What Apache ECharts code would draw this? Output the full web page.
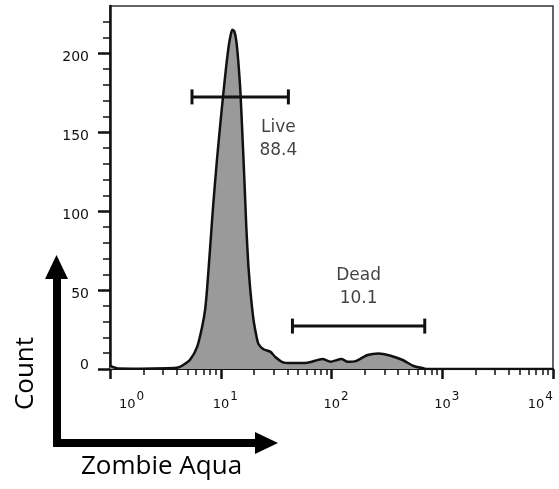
<!DOCTYPE html>
<html>
<head>
<meta charset="utf-8">
<script src="https://cdn.jsdelivr.net/npm/echarts@6/dist/echarts.min.js"></script>
<style>
html, body { margin: 0; padding: 0; background: #fff; }
#chart { width: 559px; height: 489px; }
</style>
</head>
<body>
<div id="chart"></div>
<script>
// histogram, fluorescence (log scale) vs count
var histX = [1.0, 1.09, 1.18, 1.87, 3.28, 4.12, 4.58, 5.30, 6.12, 6.80, 7.24, 7.55, 8.04, 8.55, 9.20, 9.90,
    10.53, 11.21, 11.82, 12.32, 12.71, 13.25, 13.81, 14.40, 15.02, 15.65, 16.32, 17.01, 17.74, 18.49,
    19.69, 20.96, 21.85, 24.3, 28.0, 31.1, 36.0, 42.6, 60.6, 83.0, 98.0,
    123, 140, 165, 212, 266, 342, 439, 552, 680, 755, 10000];
var histCount = [2, 1, 0.3, 0.2, 0.5, 1, 2.5, 6, 14, 27, 38, 52, 78, 104, 131, 155,
    174, 192, 205, 212, 215, 214, 208, 195, 177, 150, 121, 90, 66, 50,
    32, 21, 16, 12.5, 11, 7.6, 4.4, 3.8, 4, 6.3, 4.6,
    6.3, 4.6, 5, 8.9, 9.9, 8.4, 5.7, 1.9, 0.4, 0, 0];

// gates
var gateNames = ['Live', 'Dead'];
var gatePcts = ['88.4', '10.1'];
var gateFrom = [5.5, 44.4];
var gateTo = [40.8, 695];
var gateY = [172.4, 27.2];
var gateLabelX = [33.1, 175.5];
var gateLabelY = [145.4, 51.6];

// ticks
var xMajor = [1, 10, 100, 1000, 10000];
var xMinor = [2, 3, 4, 5, 6, 7, 8, 9, 20, 30, 40, 50, 60, 70, 80, 90,
    200, 300, 400, 500, 600, 700, 800, 900, 2000, 3000, 4000, 5000, 6000, 7000, 8000, 9000];
var yMajor = [0, 50, 100, 150, 200];
var yMinor = [10, 20, 30, 40, 60, 70, 80, 90, 110, 120, 130, 140, 160, 170, 180, 190, 210, 220];

var tickFont = 'DejaVu Sans';

var histData = histX.map(function (x, i) { return [x, histCount[i]]; });

var series = [{
    type: 'line',
    data: histData,
    smooth: 0.2,
    symbol: 'none',
    lineStyle: { color: '#111', width: 2.5 },
    areaStyle: { color: '#9a9a9a', opacity: 1 },
    z: 2
}];

gateNames.forEach(function (name, i) {
    series.push({
        type: 'line',
        data: [[gateFrom[i], gateY[i]], [gateTo[i], gateY[i]]],
        symbol: 'rect',
        symbolSize: [3, 15],
        showSymbol: true,
        lineStyle: { color: '#111', width: 3 },
        itemStyle: { color: '#111' },
        z: 3
    });
    series.push({
        type: 'scatter',
        data: [{ value: [gateLabelX[i], gateLabelY[i]], name: name + '\n' + gatePcts[i] }],
        symbolSize: 0,
        label: {
            show: true,
            position: 'inside',
            formatter: '{b}',
            fontFamily: tickFont,
            fontSize: 17,
            lineHeight: 23,
            color: '#111',
            align: 'center'
        },
        z: 4
    });
});

var myChart = echarts.init(document.getElementById('chart'));
var option = {
    animation: false,
    grid: {
        left: 110, top: 6, right: 6, bottom: 120,
        show: true, borderColor: '#333', borderWidth: 1.5,
        outerBoundsMode: 'none'
    },
    xAxis: [{
        type: 'log', logBase: 10, min: 1, max: 10000, position: 'bottom',
        axisLine: { lineStyle: { color: '#111', width: 2 } },
        axisTick: { customValues: xMajor, length: 10, lineStyle: { color: '#111', width: 2.5 } },
        splitLine: { show: false },
        axisLabel: {
            customValues: xMajor,
            margin: 22,
            alignMinLabel: 'left',
            alignMaxLabel: 'right',
            formatter: function (v) {
                var e = Math.round(Math.log10(v));
                return (e < 4 ? '{sp|}' : '') + '{b|10}{s|' + e + '}';
            },
            rich: {
                sp: { width: 9 },
                b: { fontFamily: tickFont, fontSize: 13, color: '#111', verticalAlign: 'bottom' },
                s: { fontFamily: tickFont, fontSize: 12, color: '#111', verticalAlign: 'bottom', padding: [0, 0, 8, 1] }
            }
        }
    }, {
        type: 'log', logBase: 10, min: 1, max: 10000, position: 'bottom',
        axisLine: { show: false },
        axisTick: { customValues: xMinor, length: 6, lineStyle: { color: '#111', width: 1.5 } },
        splitLine: { show: false },
        axisLabel: { show: false }
    }],
    yAxis: [{
        type: 'value', min: 0, max: 230, position: 'left',
        axisLine: { show: true, lineStyle: { color: '#111', width: 2.5 } },
        axisTick: { show: true, customValues: yMajor, length: 12, lineStyle: { color: '#111', width: 2.5 } },
        splitLine: { show: false },
        axisLabel: {
            customValues: yMajor,
            margin: 21,
            formatter: function (v) { return v === 0 ? '{z|0}' : '{n|' + v + '}'; },
            rich: {
                n: { fontFamily: tickFont, fontSize: 14, color: '#111', padding: [8, 0, 0, 0] },
                z: { fontFamily: tickFont, fontSize: 14, color: '#111', padding: [0, 0, 7, 0] }
            }
        }
    }, {
        type: 'value', min: 0, max: 230, position: 'left',
        axisLine: { show: false },
        axisTick: { show: true, customValues: yMinor, length: 7, lineStyle: { color: '#111', width: 1.5 } },
        splitLine: { show: false },
        axisLabel: { show: false }
    }],
    graphic: [
        { type: 'rect', shape: { x: 53, y: 275, width: 8, height: 172 }, style: { fill: '#000' } },
        { type: 'polygon', shape: { points: [[45, 279], [68, 279], [56.5, 255]] }, style: { fill: '#000' } },
        { type: 'rect', shape: { x: 53, y: 439, width: 204, height: 8 }, style: { fill: '#000' } },
        { type: 'polygon', shape: { points: [[255, 432], [255, 454], [278, 443]] }, style: { fill: '#000' } },
        {
            type: 'text', x: 26, y: 373.5, rotation: Math.PI / 2,
            style: { text: 'Count', font: '26px "Open Sans"', fill: '#000', align: 'center', verticalAlign: 'middle' }
        },
        {
            type: 'text', x: 161.5, y: 467,
            style: { text: 'Zombie Aqua', font: '26px "Open Sans"', fill: '#000', align: 'center', verticalAlign: 'middle' }
        }
    ],
    series: series
};
myChart.setOption(option);
</script>
</body>
</html>
